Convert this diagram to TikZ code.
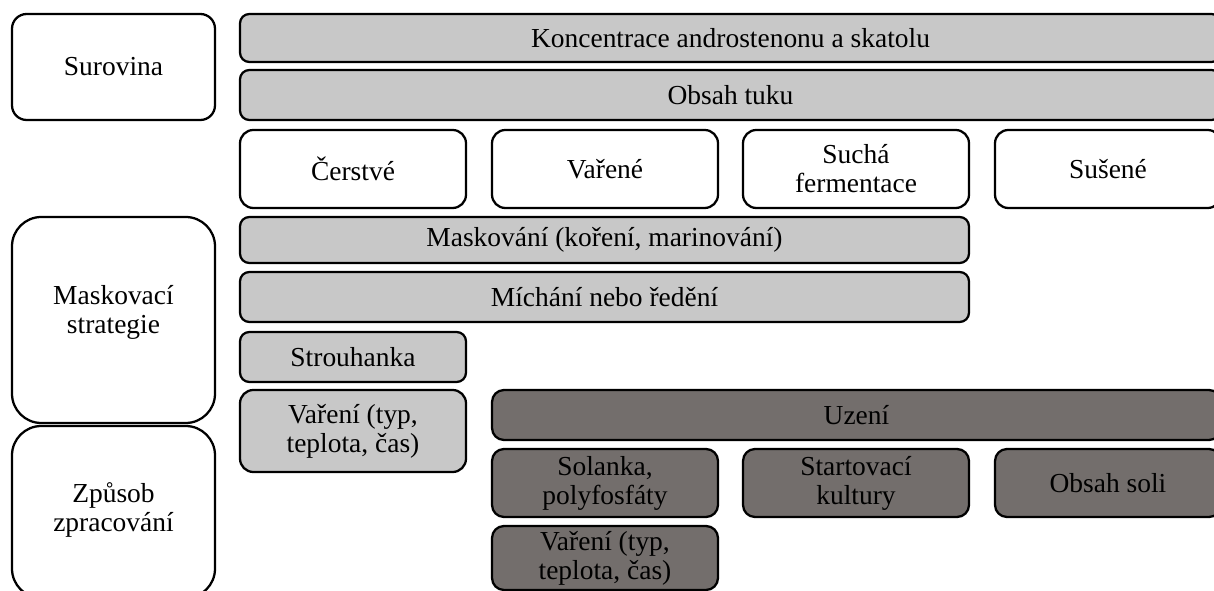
\documentclass[tikz,border=0pt]{standalone}
\usepackage{fontspec}
\setmainfont{Liberation Serif}
\usetikzlibrary{fit}
\definecolor{lightg}{RGB}{200,200,200}
\definecolor{darkg}{RGB}{115,110,108}
\tikzset{
  base/.style={draw=black, line width=1.7pt, inner sep=0pt},
  txt/.style={inner sep=0pt, align=center, font=\fontsize{20.6}{21.8}\selectfont},
  boxw/.style={base, fill=white, rounded corners=10pt},
  boxl/.style={base, fill=lightg, rounded corners=7pt},
  boxd/.style={base, fill=darkg, rounded corners=9pt},
  side/.style={base, fill=white, rounded corners=#1},
}
\newcommand{\bx}[5][0]{% [vertical text shift px] style, name, fit corners, text
  \node[#2, fit={#4}] (#3) {};
  \node[txt, yshift=#1*0.75pt] (#3-t) at (#3.center) {#5};
}
\begin{document}
\begin{tikzpicture}[x=0.75pt,y=-0.75pt]
\useasboundingbox (0,0) rectangle (1214,591);
\fill[white] (0,0) rectangle (1214,591);
\clip (0,0) rectangle (1214,591);
% left column
\bx{side=11pt}{sur}{(12,14)(215,120)}{Surovina}
\bx[8]{side=22pt}{mask}{(12,217)(215,423)}{Maskovací\\strategie}
\bx[2]{side=22pt}{zpr}{(12,426)(215,598)}{Způsob\\zpracování}
% raw material
\bx{boxl}{konc}{(240,14)(1221,62)}{Koncentrace androstenonu a skatolu}
\bx{boxl}{tuk}{(240,70)(1221,120)}{Obsah tuku}
\bx{boxw}{cer}{(240,130)(466,208)}{Čerstvé}
\bx{boxw}{var}{(492,130)(718,208)}{Vařené}
\bx{boxw}{such}{(743,130)(969,208)}{Suchá\\fermentace}
\bx{boxw}{sus}{(995,130)(1221,208)}{Sušené}
% masking
\bx{boxl}{maskov}{(240,217)(969,263)}{Maskování (koření, marinování)}
\bx{boxl}{mich}{(240,272)(969,322)}{Míchání nebo ředění}
\bx{boxl}{strou}{(240,332)(466,382)}{Strouhanka}
\bx{boxl,rounded corners=10pt}{varl}{(240,390)(466,472)}{Vaření (typ,\\teplota, čas)}
% processing
\bx{boxd}{uz}{(492,390)(1221,440)}{Uzení}
\bx{boxd}{sol}{(492,449)(718,517)}{Solanka,\\polyfosfáty}
\bx{boxd}{start}{(743,449)(969,517)}{Startovací\\kultury}
\bx{boxd}{soli}{(995,449)(1221,517)}{Obsah soli}
\bx{boxd}{vard}{(492,526)(718,590)}{Vaření (typ,\\teplota, čas)}
\end{tikzpicture}
\end{document}
